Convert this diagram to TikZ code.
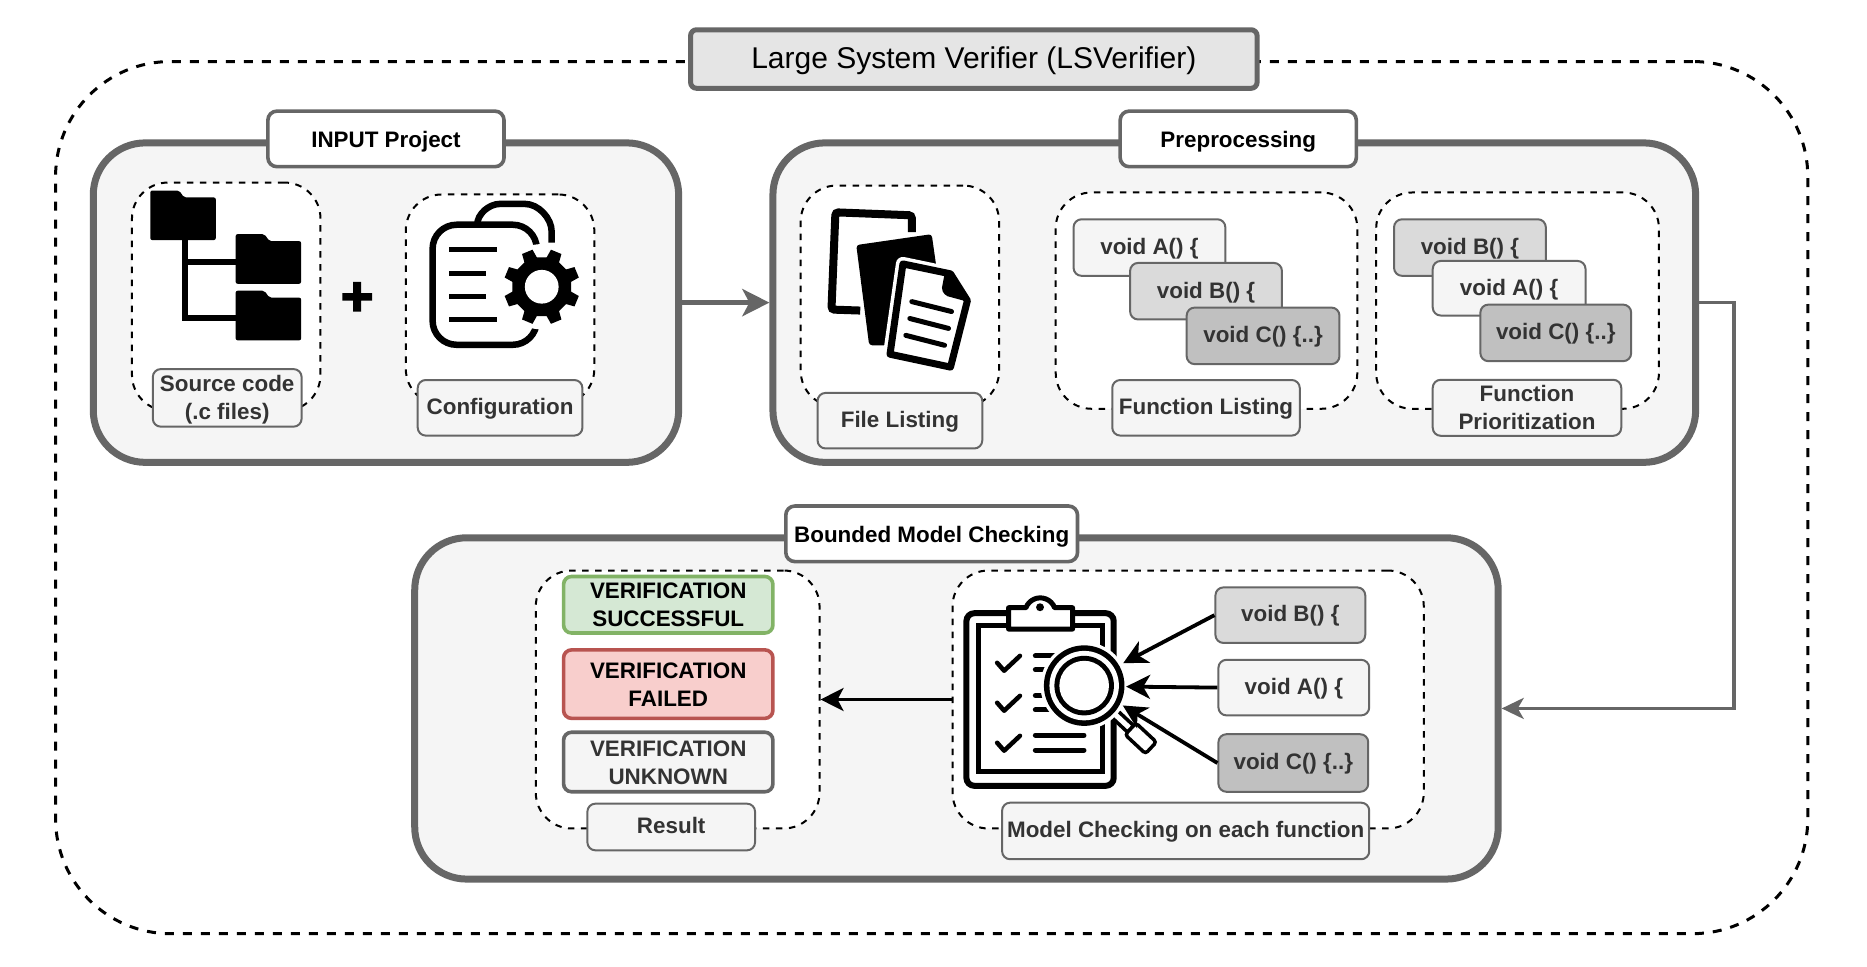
\documentclass[tikz,border=0pt]{standalone}
\usepackage{fontspec}
\setmainfont{Liberation Sans}
\usetikzlibrary{arrows.meta}
\definecolor{edge}{HTML}{666666}
\definecolor{ink}{HTML}{333333}
\definecolor{pale}{HTML}{F5F5F5}
\definecolor{midg}{HTML}{DADADA}
\definecolor{darkg}{HTML}{C0C0C0}
\definecolor{okedge}{HTML}{82B366}\definecolor{okfill}{HTML}{D5E8D4}
\definecolor{badedge}{HTML}{B85450}\definecolor{badfill}{HTML}{F8CECC}
\def\tsamt{1.2pt}
\tikzset{
  panel/.style={draw=edge,line width=7pt,fill=pale,rounded corners=52pt},
  titlebox/.style={draw=edge,line width=3.6pt,fill=white,rounded corners=9pt,text=black,font=\fontsize{22.4}{28}\selectfont\bfseries,inner sep=0pt,execute at begin node={\def\tsamt{2.6pt}}},
  mainbox/.style={draw=edge,line width=5pt,fill=black!10,rounded corners=6pt,text=black,font=\fontsize{30}{36}\selectfont,inner sep=0pt,execute at begin node={\def\tsamt{2.4pt}}},
  dashbox/.style={draw=black,line width=2pt,dash pattern=on 6.5pt off 6.5pt,fill=white,rounded corners=36pt,inner sep=0pt},
  outerdash/.style={draw=black,line width=3pt,dash pattern=on 9pt off 9pt,rounded corners=115pt,inner sep=0pt},
  tag/.style={draw=edge,line width=2pt,fill=pale,rounded corners=8pt,text=ink,font=\fontsize{22.4}{28}\selectfont\bfseries,inner sep=0pt},
  twotag/.style={tag,execute at begin node={\def\tsamt{2.2pt}}},
  fnA/.style={tag},
  fnB/.style={tag,fill=midg},
  fnC/.style={tag,fill=darkg},
  verdict/.style={line width=3.6pt,rounded corners=8pt,font=\fontsize{22.4}{28}\selectfont\bfseries,inner sep=0pt,execute at begin node={\def\tsamt{2.4pt}}},
  okbox/.style={verdict,draw=okedge,fill=okfill,text=black},
  badbox/.style={verdict,draw=badedge,fill=badfill,text=black},
  unkbox/.style={verdict,draw=edge,fill=pale,text=ink},
  fatflow/.style={draw=edge,line width=5pt,-{Stealth[length=27pt,width=27pt,inset=7pt]}},
  thinflow/.style={draw=edge,line width=3.5pt,-{Stealth[length=22pt,width=21pt,inset=6pt]}},
  blackflow/.style={draw=black,line width=3.8pt,-{Stealth[length=24pt,width=24pt,inset=7pt]}},
  resultflow/.style={draw=black,line width=3.4pt,-{Stealth[length=23pt,width=23pt,inset=6pt]}},
  folderpic/.pic={\fill[black,rounded corners=2pt] (0,0) -- (29,0) -- (34,7) -- (66,7) -- (66,50) -- (0,50) -- cycle;},
  iconline/.style={line width=5pt,line cap=round},
}
\newcommand{\tshift}[1]{\raisebox{-\tsamt}[\height][\depth]{\begin{tabular}{@{}c@{}}#1\end{tabular}}}
\newcommand{\bx}[7]{%
  \pgfmathsetmacro{\bw}{(#5-#3)*0.9922}\pgfmathsetmacro{\bh}{(#6-#4)*0.9922}%
  \pgfmathsetmacro{\bcx}{(#3+#5)/2}\pgfmathsetmacro{\bcy}{(#4+#6)/2}%
  \node[#1,minimum width=\bw pt,minimum height=\bh pt] (#2) at (\bcx,\bcy) {\tshift{#7}}}
\begin{document}
\begin{tikzpicture}[x=0.9922pt,y=-0.9922pt]
\useasboundingbox (0,0) rectangle (1881.7,974.6);
\fill[white] (0,0) rectangle (1881.7,974.6);

% outer frame and title
\bx{outerdash}{frame}{56}{62}{1822}{941}{};
\bx{mainbox}{maintitle}{696}{30}{1267}{89}{Large System Verifier (LSVerifier)};

% ---------- INPUT
\bx{panel}{inp}{94}{144}{684}{466}{};
\bx{titlebox}{inpT}{270}{112}{508}{168}{INPUT Project};
\bx{dashbox}{srcD}{133}{184}{323}{414}{};
\bx{dashbox}{cfgD}{409}{196}{599}{408}{};
\bx{twotag}{srcL}{154}{372}{304}{430}{Source code\\(.c files)};
\bx{tag}{cfgL}{421}{383}{587}{439}{Configuration};

% folders
\begin{scope}[shift={(0.5,2)}]
\draw[black,line width=6pt] (186,225) |- (270,262) (186,262) |- (270,318);
\pic at (151,190) {folderpic};
\pic at (237,234) {folderpic};
\pic at (237,291) {folderpic};
\end{scope}

% plus
\fill[black] (345,295.5) rectangle (375,303) (356,284) rectangle (364,314);

% configuration icon
\begin{scope}[shift={(-1,1.5)}]
\draw[black,line width=6.5pt] (482,225) to[out=90,in=180,looseness=.9] (505,204) -- (530,204)
  to[out=0,in=90,looseness=.9] (557,232) -- (557,243);
\draw[black,line width=6.5pt,rounded corners=24pt] (542,250) -- (542,225) -- (437,225) -- (437,346) -- (542,346) -- (542,325);
\foreach \yy/\xx in {250/502,274/491,297/491,321/502}
  \draw[black,line width=5pt] (454,\yy) -- (\xx,\yy);
\begin{scope}[shift={(547,287.5)}]
  \fill[white] (0,0) circle[radius=43];
  \fill[black] (9.5:30)
    \foreach \a in {0,45,...,315} {
      -- ({\a+9.5}:30) -- ({\a+14}:38.5) -- ({\a+31}:38.5) -- ({\a+35.5}:30)
    } -- cycle;
  \fill[white] (0,0) circle[radius=17];
\end{scope}
\end{scope}

% ---------- PREPROCESSING
\bx{panel}{prep}{779}{144}{1709}{466}{};
\bx{titlebox}{prepT}{1129}{112}{1367}{168}{Preprocessing};
\bx{dashbox}{fileD}{807}{187}{1007}{410}{};
\bx{dashbox}{listD}{1064}{194}{1368}{412}{};
\bx{dashbox}{prioD}{1387}{194}{1672}{412}{};
\bx{tag}{fileL}{824}{396}{990}{452}{File Listing};
\bx{tag}{listL}{1121}{383}{1310}{439}{Function Listing};
\bx{twotag}{prioL}{1444}{383}{1634}{439}{Function\\Prioritization};

\bx{fnA}{la}{1082}{221}{1235}{278}{void A() \{};
\bx{fnB}{lb}{1139}{265}{1292}{322}{void B() \{};
\bx{fnC}{lc}{1196}{310}{1350}{367}{void C() \{..\}};
\bx{fnB}{pb}{1405}{221}{1558}{278}{void B() \{};
\bx{fnA}{pa}{1444}{263}{1598}{318}{void A() \{};
\bx{fnC}{pc}{1492}{307}{1644}{364}{void C() \{..\}};

% file icon
\begin{scope}[shift={(5,2)}]
\draw[black,line width=8pt,rounded corners=3pt] (914,232) -- (914,215) -- (837,212) -- (833,310) -- (862,311);
\fill[black,rounded corners=3pt] (858,245) -- (934,234) -- (942,290) -- (892,346) -- (871,346) -- cycle;
\draw[white,line width=14pt,line join=round] (905,264) -- (953,274) -- (970,301) -- (953,368) -- (892,355) -- cycle;
\fill[white] (905,264) -- (953,274) -- (970,301) -- (953,368) -- (892,355) -- cycle;
\draw[black,line width=7pt,line join=round] (905,264) -- (953,274) -- (970,301) -- (953,368) -- (892,355) -- cycle;
\fill[black,rounded corners=2pt] (947,274) -- (944,290) -- (948,296) -- (970,302) -- (953,274) -- cycle;
\draw[black,iconline] (914,302) -- (954,312);
\draw[black,iconline] (912,319) -- (951,329);
\draw[black,iconline] (908,336) -- (947,346);
\end{scope}

% ---------- BMC
\bx{panel}{bmc}{418}{542}{1510}{886}{};
\bx{titlebox}{bmcT}{792}{510}{1086}{566}{Bounded Model Checking};
\bx{dashbox}{resD}{540}{575}{826}{835}{};
\bx{dashbox}{modD}{960}{575}{1435}{835}{};
\bx{okbox}{okB}{568}{581}{779}{638}{VERIFICATION\\SUCCESSFUL};
\bx{badbox}{badB}{568}{655}{779}{724}{VERIFICATION\\FAILED};
\bx{unkbox}{unkB}{568}{738}{779}{798}{VERIFICATION\\UNKNOWN};
\bx{tag}{resL}{592}{810}{761}{857}{Result};
\bx{tag}{modL}{1010}{809}{1380}{866}{Model Checking on each function};
\bx{fnB}{mb}{1225}{592}{1376}{648}{void B() \{};
\bx{fnA}{ma}{1228}{665}{1380}{721}{void A() \{};
\bx{fnC}{mc}{1228}{740}{1379}{798}{void C() \{..\}};

% clipboard icon
\draw[black,line width=6pt,rounded corners=8pt] (974,618) rectangle (1122.5,792);
\draw[black,line width=5pt] (986.5,630.5) rectangle (1111.5,777.5);
\draw[black,line width=5pt,fill=white,line join=round] (1016.5,612.5) -- (1034,612.5) arc[start angle=201,end angle=339,radius=15.5] -- (1081,612.5) -- (1081,634) -- (1016.5,634) -- cycle;
\fill[black] (1048.2,612) circle[radius=4];
\foreach \yy in {0,40.3,80.6}
  \draw[black,line width=4.5pt,line cap=round,line join=round] (1005,{668+\yy}) -- (1012,{676+\yy}) -- (1028,{661+\yy});
\foreach \yy/\xx in {661/1070,675/1070,701/1070,715.5/1070,741/1092.5,756/1092.5}
  \draw[black,iconline] (1043.5,\yy) -- (\xx,\yy);
% magnifier
\begin{scope}[shift={(1092.7,691)},rotate=-43]
  \draw[black,line width=3.5pt,fill=white] (38,-4.5) rectangle (64,4.5);
  \draw[black,line width=3.5pt,fill=white,rounded corners=3pt] (64,-8) rectangle (92,8);
\end{scope}
\fill[white] (1092.7,691) circle[radius=44];
\fill[black] (1092.7,691) circle[radius=40.6];
\fill[white] (1092.7,691) circle[radius=35];
\fill[black] (1092.7,691) circle[radius=30];
\fill[white] (1092.7,691) circle[radius=25];

% ---------- connectors
\coordinate (tipB) at (1132,668.4);
\coordinate (tipA) at (1135,692);
\coordinate (tipC) at (1131.6,711);
\draw[blackflow] (mb.west) -- (tipB);
\draw[blackflow] (ma.west) -- (tipA);
\draw[blackflow] (mc.west) -- (tipC);
\draw[resultflow] (modD.west) -- (resD.east);
\draw[fatflow] (inp.east) -- (prep.west);
\draw[thinflow] (prep.east) -- ++(35,0) |- (bmc.east);
\end{tikzpicture}
\end{document}
